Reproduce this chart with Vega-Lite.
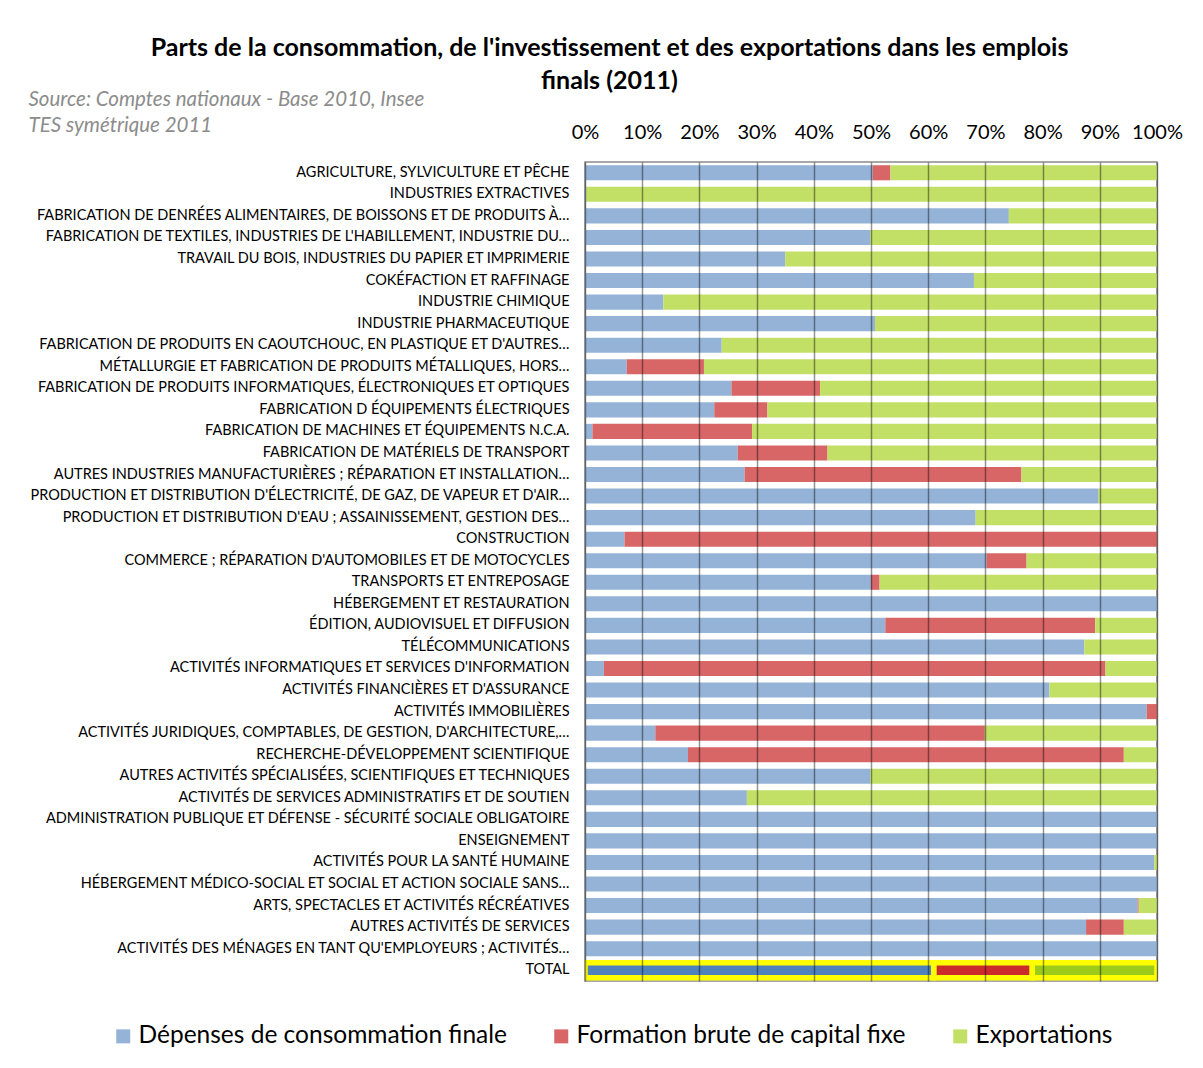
{
  "$schema": "https://vega.github.io/schema/vega-lite/v6.json",
  "width": 572,
  "height": 819,
  "autosize": {"type": "none"},
  "padding": {"left": 585, "top": 162, "right": 46, "bottom": 87},
  "background": "white",
  "config": {
    "font": "Lato",
    "view": {"stroke": "#8a8a8a", "strokeWidth": 1.5},
    "legend": {"labelFont": "Lato", "labelFontSize": 24.5, "labelColor": "#000", "symbolType": "square", "symbolSize": 196, "symbolStrokeWidth": 0, "labelOffset": 3, "columnPadding": 42, "labelLimit": 600}
  },
  "data": {
    "values": [
      {"s": "AGRICULTURE, SYLVICULTURE ET PÊCHE", "Dépenses de consommation finale": 50.3, "Formation brute de capital fixe": 3.1, "Exportations": 46.6},
      {"s": "INDUSTRIES EXTRACTIVES", "Dépenses de consommation finale": 0.2, "Formation brute de capital fixe": 0, "Exportations": 99.8},
      {"s": "FABRICATION DE DENRÉES ALIMENTAIRES, DE BOISSONS ET DE PRODUITS À…", "Dépenses de consommation finale": 74.1, "Formation brute de capital fixe": 0, "Exportations": 25.9},
      {"s": "FABRICATION DE TEXTILES, INDUSTRIES DE L'HABILLEMENT, INDUSTRIE DU…", "Dépenses de consommation finale": 49.9, "Formation brute de capital fixe": 0, "Exportations": 50.1},
      {"s": "TRAVAIL DU BOIS, INDUSTRIES DU PAPIER ET IMPRIMERIE", "Dépenses de consommation finale": 35.0, "Formation brute de capital fixe": 0, "Exportations": 65.0},
      {"s": "COKÉFACTION ET RAFFINAGE", "Dépenses de consommation finale": 68.0, "Formation brute de capital fixe": 0, "Exportations": 32.0},
      {"s": "INDUSTRIE CHIMIQUE", "Dépenses de consommation finale": 13.7, "Formation brute de capital fixe": 0, "Exportations": 86.3},
      {"s": "INDUSTRIE PHARMACEUTIQUE", "Dépenses de consommation finale": 50.7, "Formation brute de capital fixe": 0, "Exportations": 49.3},
      {"s": "FABRICATION DE PRODUITS EN CAOUTCHOUC, EN PLASTIQUE ET D'AUTRES…", "Dépenses de consommation finale": 23.9, "Formation brute de capital fixe": 0, "Exportations": 76.1},
      {"s": "MÉTALLURGIE ET FABRICATION DE PRODUITS MÉTALLIQUES, HORS…", "Dépenses de consommation finale": 7.3, "Formation brute de capital fixe": 13.5, "Exportations": 79.2},
      {"s": "FABRICATION DE PRODUITS INFORMATIQUES, ÉLECTRONIQUES ET OPTIQUES", "Dépenses de consommation finale": 25.6, "Formation brute de capital fixe": 15.5, "Exportations": 58.9},
      {"s": "FABRICATION D ÉQUIPEMENTS ÉLECTRIQUES", "Dépenses de consommation finale": 22.6, "Formation brute de capital fixe": 9.3, "Exportations": 68.1},
      {"s": "FABRICATION DE MACHINES ET ÉQUIPEMENTS N.C.A.", "Dépenses de consommation finale": 1.3, "Formation brute de capital fixe": 27.9, "Exportations": 70.8},
      {"s": "FABRICATION DE MATÉRIELS DE TRANSPORT", "Dépenses de consommation finale": 26.7, "Formation brute de capital fixe": 15.7, "Exportations": 57.6},
      {"s": "AUTRES INDUSTRIES MANUFACTURIÈRES ; RÉPARATION ET INSTALLATION…", "Dépenses de consommation finale": 27.9, "Formation brute de capital fixe": 48.4, "Exportations": 23.7},
      {"s": "PRODUCTION ET DISTRIBUTION D'ÉLECTRICITÉ, DE GAZ, DE VAPEUR ET D'AIR…", "Dépenses de consommation finale": 89.8, "Formation brute de capital fixe": 0, "Exportations": 10.2},
      {"s": "PRODUCTION ET DISTRIBUTION D'EAU ; ASSAINISSEMENT, GESTION DES…", "Dépenses de consommation finale": 68.3, "Formation brute de capital fixe": 0, "Exportations": 31.7},
      {"s": "CONSTRUCTION", "Dépenses de consommation finale": 6.9, "Formation brute de capital fixe": 93.1, "Exportations": 0},
      {"s": "COMMERCE ; RÉPARATION D'AUTOMOBILES ET DE MOTOCYCLES", "Dépenses de consommation finale": 70.2, "Formation brute de capital fixe": 7.0, "Exportations": 22.8},
      {"s": "TRANSPORTS ET ENTREPOSAGE", "Dépenses de consommation finale": 50.0, "Formation brute de capital fixe": 1.5, "Exportations": 48.5},
      {"s": "HÉBERGEMENT ET RESTAURATION", "Dépenses de consommation finale": 100, "Formation brute de capital fixe": 0, "Exportations": 0},
      {"s": "ÉDITION, AUDIOVISUEL ET DIFFUSION", "Dépenses de consommation finale": 52.5, "Formation brute de capital fixe": 36.7, "Exportations": 10.8},
      {"s": "TÉLÉCOMMUNICATIONS", "Dépenses de consommation finale": 87.3, "Formation brute de capital fixe": 0, "Exportations": 12.7},
      {"s": "ACTIVITÉS INFORMATIQUES ET SERVICES D'INFORMATION", "Dépenses de consommation finale": 3.3, "Formation brute de capital fixe": 87.7, "Exportations": 9.0},
      {"s": "ACTIVITÉS FINANCIÈRES ET D'ASSURANCE", "Dépenses de consommation finale": 81.2, "Formation brute de capital fixe": 0, "Exportations": 18.8},
      {"s": "ACTIVITÉS IMMOBILIÈRES", "Dépenses de consommation finale": 98.2, "Formation brute de capital fixe": 1.8, "Exportations": 0},
      {"s": "ACTIVITÉS JURIDIQUES, COMPTABLES, DE GESTION, D'ARCHITECTURE,…", "Dépenses de consommation finale": 12.3, "Formation brute de capital fixe": 57.6, "Exportations": 30.1},
      {"s": "RECHERCHE-DÉVELOPPEMENT SCIENTIFIQUE", "Dépenses de consommation finale": 18.0, "Formation brute de capital fixe": 76.2, "Exportations": 5.8},
      {"s": "AUTRES ACTIVITÉS SPÉCIALISÉES, SCIENTIFIQUES ET TECHNIQUES", "Dépenses de consommation finale": 49.9, "Formation brute de capital fixe": 0, "Exportations": 50.1},
      {"s": "ACTIVITÉS DE SERVICES ADMINISTRATIFS ET DE SOUTIEN", "Dépenses de consommation finale": 28.3, "Formation brute de capital fixe": 0, "Exportations": 71.7},
      {"s": "ADMINISTRATION PUBLIQUE ET DÉFENSE - SÉCURITÉ SOCIALE OBLIGATOIRE", "Dépenses de consommation finale": 100, "Formation brute de capital fixe": 0, "Exportations": 0},
      {"s": "ENSEIGNEMENT", "Dépenses de consommation finale": 100, "Formation brute de capital fixe": 0, "Exportations": 0},
      {"s": "ACTIVITÉS POUR LA SANTÉ HUMAINE", "Dépenses de consommation finale": 99.5, "Formation brute de capital fixe": 0, "Exportations": 0.5},
      {"s": "HÉBERGEMENT MÉDICO-SOCIAL ET SOCIAL ET ACTION SOCIALE SANS…", "Dépenses de consommation finale": 100, "Formation brute de capital fixe": 0, "Exportations": 0},
      {"s": "ARTS, SPECTACLES ET ACTIVITÉS RÉCRÉATIVES", "Dépenses de consommation finale": 96.6, "Formation brute de capital fixe": 0.2, "Exportations": 3.2},
      {"s": "AUTRES ACTIVITÉS DE SERVICES", "Dépenses de consommation finale": 87.6, "Formation brute de capital fixe": 6.6, "Exportations": 5.8},
      {"s": "ACTIVITÉS DES MÉNAGES EN TANT QU'EMPLOYEURS ; ACTIVITÉS…", "Dépenses de consommation finale": 100, "Formation brute de capital fixe": 0, "Exportations": 0},
      {"s": "TOTAL", "Dépenses de consommation finale": 61.0, "Formation brute de capital fixe": 17.2, "Exportations": 21.8}
    ]
  },
  "transform": [
    {"fold": ["Dépenses de consommation finale", "Formation brute de capital fixe", "Exportations"], "as": ["serie", "part"]},
    {"window": [{"op": "row_number", "as": "rang"}], "groupby": ["s"]}
  ],
  "encoding": {
    "y": {
      "field": "s", "type": "nominal", "sort": null,
      "scale": {"paddingInner": 0.3, "paddingOuter": 0.15},
      "axis": {
        "labelFont": "Lato", "labelFontSize": 14.5, "labelColor": "#000", "labelPadding": 16, "labelLimit": 700,
        "ticks": false, "domain": false,
        "title": ["Source: Comptes nationaux - Base 2010, Insee", "TES symétrique 2011"],
        "titleFont": "Lato", "titleFontSize": 20.5, "titleFontStyle": "italic", "titleFontWeight": "normal", "titleColor": "#8c8c8c",
        "titleAngle": 0, "titleAlign": "left", "titleBaseline": "top", "titleX": -557, "titleY": -73, "titleLineHeight": 26
      }
    },
    "x": {
      "field": "part", "type": "quantitative", "stack": "normalize",
      "scale": {"domain": [0, 1], "nice": false},
      "axis": {
        "orient": "top", "values": [0, 0.1, 0.2, 0.3, 0.4, 0.5, 0.6, 0.7, 0.8, 0.9, 1], "format": ".0%",
        "labelFont": "Lato", "labelFontSize": 20, "labelColor": "#000", "labelPadding": 20,
        "labelOverlap": false, "labelFlush": false,
        "ticks": false, "domain": false, "zindex": 1,
        "grid": true, "gridColor": "#000", "gridOpacity": 0.42, "gridWidth": 1.5,
        "title": ["Parts de la consommation, de l'investissement et des exportations dans les emplois", "finals (2011)"],
        "titleFont": "Lato", "titleFontSize": 25, "titleFontWeight": "bold", "titleColor": "#000",
        "titleAngle": 0, "titleAlign": "center", "titleBaseline": "top", "titleX": 24, "titleY": -127, "titleLineHeight": 33
      }
    },
    "order": {"field": "rang", "type": "quantitative"}
  },
  "layer": [
    {
      "transform": [{"filter": "datum.s !== 'TOTAL'"}],
      "mark": {"type": "bar"},
      "encoding": {
        "color": {
          "field": "serie", "type": "nominal",
          "scale": {"domain": ["Dépenses de consommation finale", "Formation brute de capital fixe", "Exportations"], "range": ["#95B3D7", "#D96666", "#C3E066"]},
          "legend": {"orient": "none", "legendX": -474, "legendY": 862, "direction": "horizontal", "title": null}
        }
      }
    },
    {
      "transform": [{"filter": "datum.s === 'TOTAL'"}],
      "mark": {"type": "bar", "stroke": "#FFFF00", "strokeWidth": 5.5, "clip": true},
      "encoding": {
        "color": {
          "field": "serie", "type": "nominal",
          "scale": {"domain": ["Dépenses de consommation finale", "Formation brute de capital fixe", "Exportations"], "range": ["#4F81BD", "#CC2B2B", "#9CCB19"]},
          "legend": null
        }
      }
    }
  ],
  "resolve": {"scale": {"color": "independent"}}
}
